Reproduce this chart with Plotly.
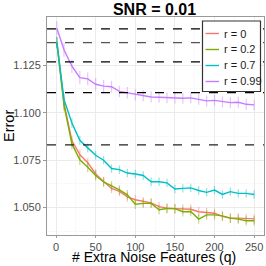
import plotly.graph_objects as go

q = [1, 10, 20, 30, 40, 50, 60, 70, 80, 90, 100, 110, 120, 130, 140, 150,
     160, 170, 180, 190, 200, 210, 220, 230, 240, 250]

err_r0 = [1.1371, 1.1050, 1.0851, 1.0778, 1.0736, 1.0676, 1.0637, 1.0600, 1.0584, 1.0555,
          1.0540, 1.0530, 1.0524, 1.0504, 1.0495, 1.0493, 1.0492, 1.0490, 1.0477, 1.0472,
          1.0469, 1.0452, 1.0443, 1.0443, 1.0440, 1.0439]
err_r02 = [1.1369, 1.1039, 1.0835, 1.0751, 1.0712, 1.0668, 1.0634, 1.0613, 1.0592, 1.0566,
           1.0516, 1.0521, 1.0521, 1.0487, 1.0494, 1.0493, 1.0477, 1.0478, 1.0438, 1.0460,
           1.0460, 1.0455, 1.0443, 1.0438, 1.0429, 1.0429]
err_r07 = [1.1374, 1.1070, 1.0945, 1.0854, 1.0814, 1.0775, 1.0749, 1.0705, 1.0699, 1.0681,
           1.0676, 1.0668, 1.0635, 1.0635, 1.0629, 1.0597, 1.0600, 1.0603, 1.0589, 1.0579,
           1.0591, 1.0568, 1.0583, 1.0574, 1.0574, 1.0568]
err_r099 = [1.1446, 1.1332, 1.1245, 1.1185, 1.1178, 1.1150, 1.1140, 1.1137, 1.1112, 1.1105,
            1.1094, 1.1089, 1.1083, 1.1081, 1.1079, 1.1077, 1.1076, 1.1078, 1.1071, 1.1062,
            1.1065, 1.1057, 1.1053, 1.1055, 1.1044, 1.1041]

se_r0 = [0.0030, 0.0030, 0.0028, 0.0027, 0.0026, 0.0026, 0.0025, 0.0025, 0.0025, 0.0025,
         0.0025, 0.0025, 0.0025, 0.0025, 0.0025, 0.0025, 0.0025, 0.0025, 0.0025, 0.0025,
         0.0025, 0.0025, 0.0025, 0.0025, 0.0025, 0.0025]
se_r02 = [0.0030, 0.0030, 0.0028, 0.0027, 0.0026, 0.0026, 0.0025, 0.0025, 0.0025, 0.0025,
          0.0025, 0.0025, 0.0025, 0.0025, 0.0025, 0.0025, 0.0025, 0.0025, 0.0025, 0.0025,
          0.0025, 0.0025, 0.0025, 0.0025, 0.0025, 0.0025]
se_r07 = [0.0028, 0.0027, 0.0025, 0.0024, 0.0023, 0.0023, 0.0022, 0.0022, 0.0022, 0.0022,
          0.0022, 0.0022, 0.0022, 0.0022, 0.0022, 0.0022, 0.0022, 0.0022, 0.0022, 0.0022,
          0.0022, 0.0022, 0.0022, 0.0022, 0.0022, 0.0022]
se_r099 = [0.0037, 0.0037, 0.0036, 0.0035, 0.0034, 0.0033, 0.0032, 0.0031, 0.0030, 0.0030,
           0.0030, 0.0029, 0.0029, 0.0029, 0.0029, 0.0029, 0.0029, 0.0029, 0.0029, 0.0029,
           0.0029, 0.0029, 0.0029, 0.0029, 0.0029, 0.0029]

ref_levels = [1.1442, 1.1370, 1.1268, 1.1106, 1.0830]
ref_colors = ["#000000", "#555555", "#000000", "#000000", "#222222"]

series_names = ["r = 0", "r = 0.2", "r = 0.7", "r = 0.99"]
series_vals = [err_r0, err_r02, err_r07, err_r099]
series_se = [se_r0, se_r02, se_r07, se_r099]
series_colors = ["#F8766D", "#7CAE00", "#00BFC4", "#C77CFF"]
series_err_colors = ["rgba(248,118,109,0.45)", "rgba(124,174,0,0.45)",
                     "rgba(0,191,196,0.45)", "rgba(199,124,255,0.45)"]

x_ticks = [0, 50, 100, 150, 200, 250]
y_ticks = [1.050, 1.075, 1.100, 1.125]
y_tick_labels = ["1.050", "1.075", "1.100", "1.125"]

FONT = "Liberation Sans, Arial, sans-serif"

# figure geometry (pixels)
W, H = 266, 266
ML, MR, MT, MB = 47, 2, 17, 31
PW, PH = W - ML - MR, H - MT - MB


def px_x(p):
    return (p - ML) / PW


def px_y(p):
    return 1 - (p - MT) / PH


fig = go.Figure()

for name, vals, se, col, ecol in zip(series_names, series_vals, series_se,
                                     series_colors, series_err_colors):
    fig.add_trace(go.Scatter(
        x=q, y=vals, mode="lines", name=name, showlegend=False,
        line=dict(color=col, width=1.4),
        error_y=dict(type="data", array=se, visible=True, color=ecol,
                     thickness=1.2, width=0),
    ))

shapes = []
for lvl, c in zip(ref_levels, ref_colors):
    shapes.append(dict(type="line", xref="paper", yref="y", x0=0, x1=1, y0=lvl, y1=lvl,
                       line=dict(color=c, width=1.3, dash="dash"), layer="above"))

# legend box drawn manually
LX0, LX1, LY0, LY1 = 202.5, 260.5, 21, 91.5
shapes.append(dict(type="rect", xref="paper", yref="paper",
                   x0=px_x(LX0), x1=px_x(LX1), y0=px_y(LY1), y1=px_y(LY0),
                   fillcolor="white", line=dict(color="#333333", width=1.2), layer="above"))
annotations = []
leg_rows = [33.5, 49.5, 65.5, 81.5]
for name, col, yy in zip(series_names, series_colors, leg_rows):
    shapes.append(dict(type="line", xref="paper", yref="paper",
                       x0=px_x(205.5), x1=px_x(219), y0=px_y(yy), y1=px_y(yy),
                       line=dict(color=col, width=1.4), layer="above"))
    annotations.append(dict(text=name, xref="paper", yref="paper",
                            x=px_x(222), y=px_y(yy), xanchor="left", yanchor="middle",
                            showarrow=False,
                            font=dict(family=FONT, size=11, color="#1A1A1A")))

annotations += [
    dict(text="# Extra Noise Features (q)", xref="paper", yref="paper",
         x=px_x(153.7), y=0, xanchor="center", yanchor="middle", yshift=-22,
         showarrow=False, borderpad=0,
         font=dict(family=FONT, size=14, color="#000000")),
    dict(text="Error", xref="paper", yref="paper", x=0, y=0.5,
         xanchor="center", yanchor="middle", xshift=-38, textangle=-90,
         showarrow=False, font=dict(family=FONT, size=14.5, color="#000000")),
]

fig.update_layout(
    width=W, height=H,
    margin=dict(l=ML, r=MR, t=MT, b=MB, autoexpand=False),
    paper_bgcolor="white", plot_bgcolor="white",
    font=dict(family=FONT, size=11, color="#4D4D4D"),
    showlegend=False,
    title=dict(text="<b>SNR = 0.01</b>", x=154.5 / W, xanchor="center",
               y=1 - 9 / H, yanchor="middle", yref="container", xref="container",
               font=dict(family=FONT, size=16, color="#000000")),
    xaxis=dict(
        range=[-11.45, 262.45], tickvals=x_ticks, ticks="outside", ticklen=2,
        tickcolor="#999999", showline=True, linecolor="#999999", linewidth=1,
        mirror=True, showgrid=True, gridcolor="#EBEBEB", gridwidth=1,
        zeroline=False, automargin=False, tickfont=dict(size=11, color="#4D4D4D"),
        minor=dict(tickvals=[25, 75, 125, 175, 225], showgrid=True,
                   gridcolor="#F5F5F5", gridwidth=0.6),
    ),
    yaxis=dict(
        range=[1.0354, 1.1505], tickvals=y_ticks, ticktext=y_tick_labels,
        ticks="outside", ticklen=3, tickcolor="#999999", showline=True,
        linecolor="#999999", linewidth=1, mirror=True, showgrid=True,
        gridcolor="#EBEBEB", gridwidth=1, zeroline=False, automargin=False,
        tickfont=dict(size=11, color="#4D4D4D"),
        minor=dict(tickvals=[1.0375, 1.0625, 1.0875, 1.1125, 1.1375], showgrid=True,
                   gridcolor="#F5F5F5", gridwidth=0.6),
    ),
    shapes=shapes,
    annotations=annotations,
)

fig.write_html(
    "out.html",
    config={"displayModeBar": False, "staticPlot": True},
    post_script="document.body.style.margin='0';document.body.style.padding='0';"
                "document.documentElement.style.overflow='hidden';",
)
